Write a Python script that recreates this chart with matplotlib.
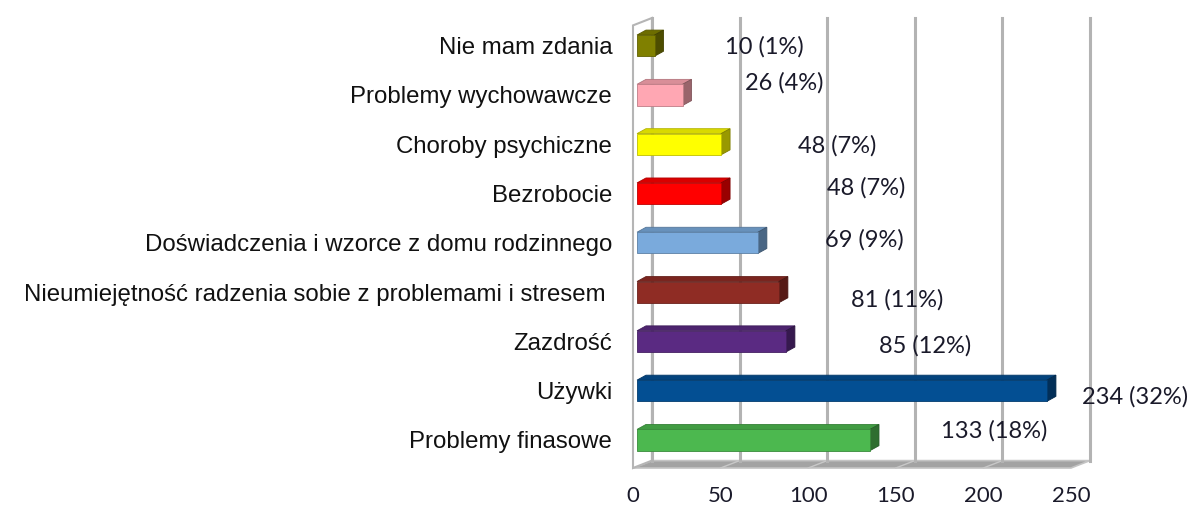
import matplotlib.pyplot as plt
from matplotlib.patches import Polygon, Rectangle
import matplotlib.colors as mcolors

# --- dane (od dołu do góry) ---
categories = [
    "Problemy finasowe",
    "Używki",
    "Zazdrość",
    "Nieumiejętność radzenia sobie z problemami i stresem ",
    "Doświadczenia i wzorce z domu rodzinnego",
    "Bezrobocie",
    "Choroby psychiczne",
    "Problemy wychowawcze",
    "Nie mam zdania",
]
values = [133, 234, 85, 81, 69, 48, 48, 26, 10]
percents = [18, 32, 12, 11, 9, 7, 7, 4, 1]
colors = ["#4cb84f", "#034f93", "#5a2a82", "#8f2c24", "#7aaadc",
          "#ff0000", "#ffff00", "#ffa7b3", "#808000"]
x_ticks = [0, 50, 100, 150, 200, 250]

# przesunięcia etykiet wartości (piksele, y w górę) - układ jak w oryginale
label_dx = [124, 88, 139, 118, 106, 145, 116, 102, 110]
label_dy = [9, -6, -4, -8, 3, 6, -2, 12, -1]

# --- geometria "3D" ---
DX, DY = 10.8, 0.15          # głębokość ścian
BX0 = 2.3                    # początek słupka
BDX, BDY = 5.1, 0.1          # głębokość słupka
H = 0.43                     # wysokość słupka
Y0, Y1 = -0.568, 8.56


def shade(c, f):
    r, g, b = mcolors.to_rgb(c)
    return (r * f, g * f, b * f)


fig = plt.figure(figsize=(11.93, 5.12), dpi=100)
ax = fig.add_axes([633 / 1193, 1 - 468 / 512, 438 / 1193, 450 / 512])
ax.set_xlim(0, 250)
ax.set_ylim(Y0, Y1)
for s in ax.spines.values():
    s.set_visible(False)
ax.tick_params(length=0)

# podłoga
ax.add_patch(Polygon([(0, Y0), (250, Y0), (250 + DX, Y0 + DY), (DX, Y0 + DY)],
                     closed=True, fc="#a3a3a3", ec="#c4c4c4", lw=1.2,
                     clip_on=False, zorder=1))
for t in x_ticks[1:-1]:
    ax.plot([t, t + DX], [Y0, Y0 + DY], color="#c8c8c8", lw=1,
            clip_on=False, zorder=1.5)

# lewa ściana
ax.add_patch(Polygon([(0, Y0), (DX, Y0 + DY), (DX, Y1), (0, Y1 - DY)],
                     closed=True, fc="white", ec="#b5b5b5", lw=1.5,
                     clip_on=False, zorder=1))

# linie siatki na tylnej ścianie
for t in x_ticks:
    ax.plot([t + DX, t + DX], [Y0 + DY, Y1], color="#b3b3b3", lw=2.2,
            clip_on=False, zorder=2)

# słupki
for i, (v, c) in enumerate(zip(values, colors)):
    y_lo, y_hi = i - H / 2, i + H / 2
    x1 = BX0 + v
    ax.add_patch(Polygon([(BX0, y_hi), (x1, y_hi), (x1 + BDX, y_hi + BDY),
                          (BX0 + BDX, y_hi + BDY)], closed=True,
                         fc=shade(c, 0.85), ec=shade(c, 0.7), lw=0.6,
                         zorder=3, clip_on=False))
    ax.add_patch(Polygon([(x1, y_lo), (x1 + BDX, y_lo + BDY),
                          (x1 + BDX, y_hi + BDY), (x1, y_hi)], closed=True,
                         fc=shade(c, 0.6), ec=shade(c, 0.5), lw=0.6,
                         zorder=3, clip_on=False))
    ax.add_patch(Rectangle((BX0, y_lo), v, H, fc=c, ec=shade(c, 0.75),
                           lw=0.6, zorder=4, clip_on=False))

    ax.annotate(f"{v} ({percents[i]}%)", xy=(x1, i),
                xytext=(label_dx[i], label_dy[i]), textcoords="offset pixels",
                ha="center", va="center", fontsize=17, family="Lato",
                color="#1a1a2a", annotation_clip=False, zorder=5)

ax.set_yticks(range(len(categories)))
ax.set_yticklabels(categories, family="Liberation Sans", fontsize=17.3,
                   color="#111111")
ax.tick_params(axis="y", pad=15)
ax.set_xticks(x_ticks)
ax.set_xticklabels([str(t) for t in x_ticks], family="Lato", fontsize=16,
                   color="#1a1a2a")
ax.tick_params(axis="x", pad=13)

fig.savefig("out.png", dpi=100)
